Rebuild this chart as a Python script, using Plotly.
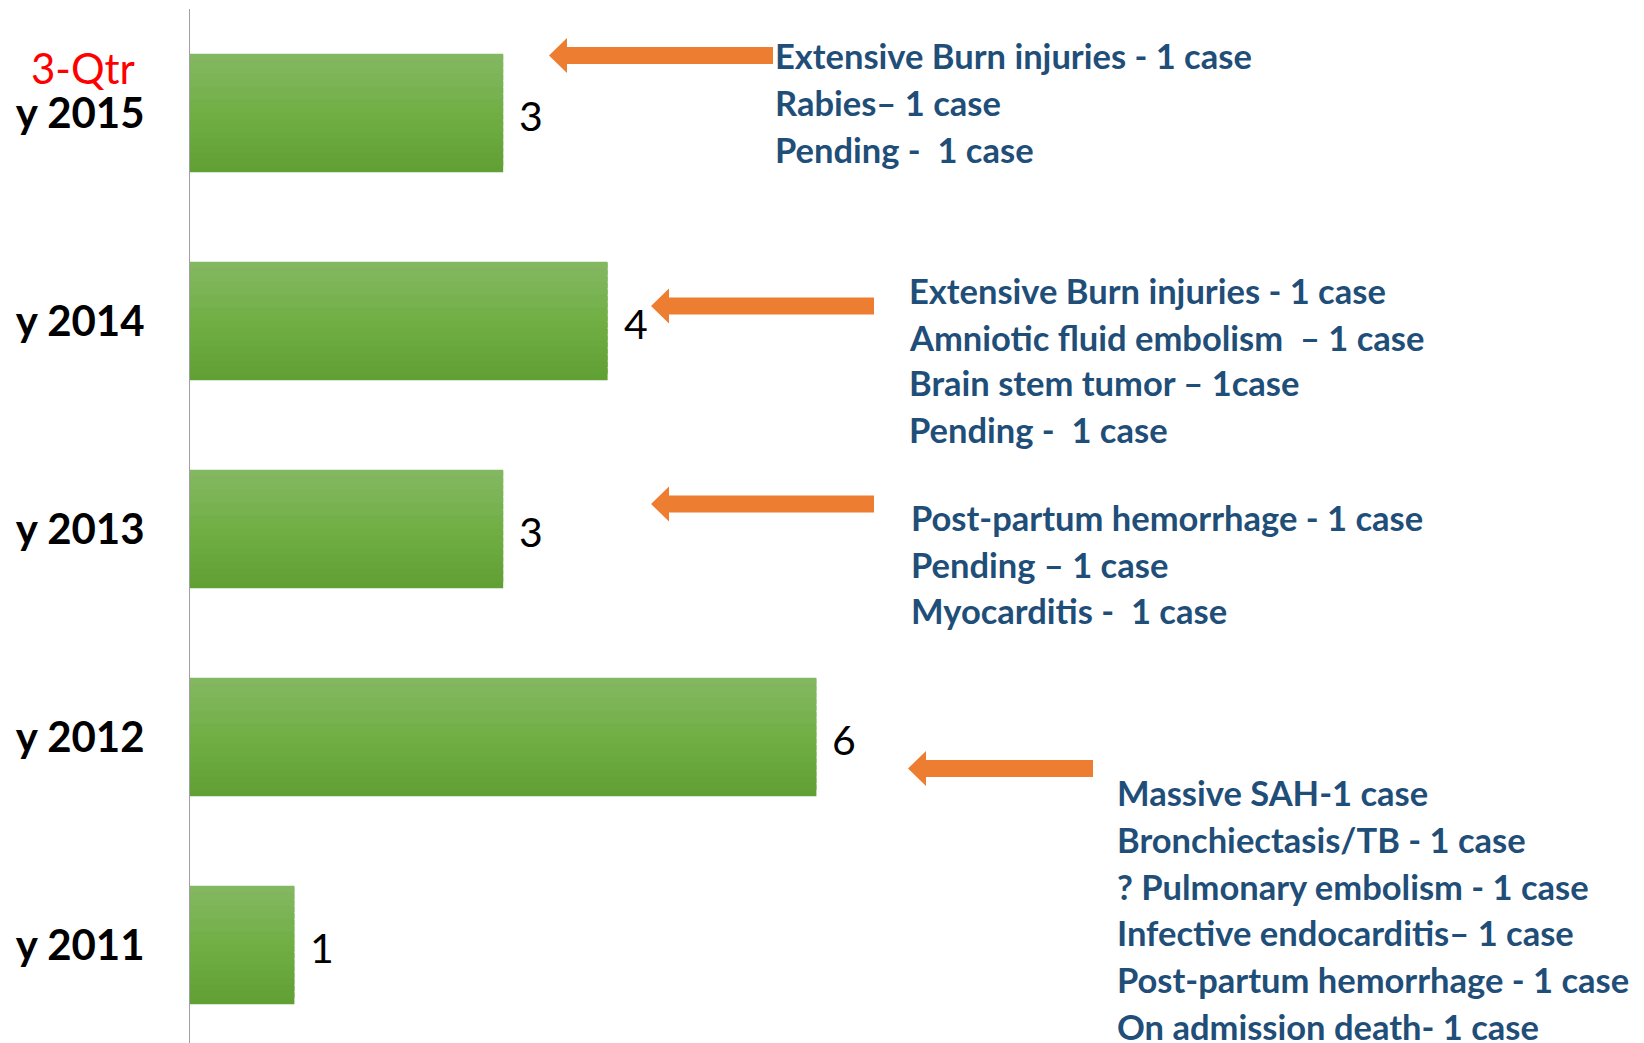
import plotly.graph_objects as go

# ---------------- data ----------------
years = ["y 2011", "y 2012", "y 2013", "y 2014", "y 2015"]
deaths = [1, 6, 3, 4, 3]

causes_2015 = ["Extensive Burn injuries - 1 case", "Rabies\u2013 1 case", "Pending -  1 case"]
causes_2014 = ["Extensive Burn injuries - 1 case", "Amniotic fluid embolism  \u2013 1 case",
               "Brain stem tumor \u2013 1case", "Pending -  1 case"]
causes_2013 = ["Post-partum hemorrhage - 1 case", "Pending \u2013 1 case", "Myocarditis -  1 case"]
causes_2012 = ["Massive SAH-1 case", "Bronchiectasis/TB - 1 case", "? Pulmonary embolism - 1 case",
               "Infective endocarditis\u2013 1 case", "Post-partum hemorrhage - 1 case",
               "On admission death- 1 case"]
qtr_note = "3-Qtr"

# ---------------- layout geometry (pixels) ----------------
W, H = 1644, 1043
ML, MR, MT, MB = 190, 0, 9, 0
PW, PH = W - ML - MR, H - MT - MB
X_MAX = PW / 104.4
Y_RANGE = [4.5 - PH / 208.0, 4.5]


def px(xp):
    return (xp - ML) / PW


def py(yp):
    return 1 - (yp - MT) / PH


FONT = "Lato, 'Open Sans', sans-serif"
BLUE = "#1F4E79"
ORANGE = "#ED7D31"

fig = go.Figure()

# gradient bars built from overlapping horizontal stripes
N = 18
BAR_W = 0.57
STEP = BAR_W / N
top = (0x84, 0xB8, 0x63)
mid = (0x71, 0xAF, 0x44)
bot = (0x60, 0x9F, 0x33)


def lerp(a, b, t):
    return tuple(int(round(a[k] + (b[k] - a[k]) * t)) for k in range(3))


for i in range(N):
    t = (i + 0.5) / N  # 0 bottom -> 1 top
    c = lerp(bot, mid, t / 0.5) if t < 0.5 else lerp(mid, top, (t - 0.5) / 0.5)
    off = -BAR_W / 2 + i * STEP
    wid = min(STEP * 1.8, BAR_W / 2 - off)
    fig.add_trace(go.Bar(
        x=deaths, y=years, orientation="h",
        width=wid, offset=off,
        marker=dict(color="rgb(%d,%d,%d)" % c, line=dict(width=0)),
        showlegend=False, hoverinfo="skip"))

annotations = []
# value labels
for yv, xv in zip(years, deaths):
    annotations.append(dict(x=xv, y=yv, xref="x", yref="y", text=str(xv), showarrow=False,
                            xanchor="left", yanchor="middle", xshift=14, yshift=-2,
                            font=dict(family=FONT, size=41, color="black")))

# 3-Qtr note
annotations.append(dict(x=px(83), y=py(68), xref="paper", yref="paper", text=qtr_note,
                        showarrow=False, xanchor="center", yanchor="middle",
                        font=dict(family=FONT, size=42, color="#FF0000")))

# cause text blocks
blocks = [
    (causes_2015, 773, [55.2, 102.4, 149.3]),
    (causes_2014, 907, [290.2, 337.3, 382.4, 429.3]),
    (causes_2013, 909, [517.6, 564.6, 610.5]),
    (causes_2012, 1115, [792.6, 839.6, 886.5, 932.6, 979.5, 1026]),
]
for lines, xp, ys in blocks:
    for txt, yp in zip(lines, ys):
        annotations.append(dict(x=px(xp), y=py(yp), xref="paper", yref="paper", text=txt,
                                showarrow=False, xanchor="left", yanchor="middle",
                                font=dict(family=FONT, size=34.5, color=BLUE, weight="bold")))

# block arrows
arrows = [(549, 773, 55.5), (651, 874, 306), (651, 874, 504), (908, 1093, 768.5)]
shapes = []
for tip, end, cy in arrows:
    hl, hh, sh = 18, 17.5, 8.5
    pts = [(tip, cy), (tip + hl, cy - hh), (tip + hl, cy - sh), (end, cy - sh),
           (end, cy + sh), (tip + hl, cy + sh), (tip + hl, cy + hh)]
    path = "M " + " L ".join("%.5f,%.5f" % (px(a), py(b)) for a, b in pts) + " Z"
    shapes.append(dict(type="path", path=path, xref="paper", yref="paper",
                       fillcolor=ORANGE, line=dict(width=0)))

fig.update_layout(
    width=W, height=H,
    margin=dict(l=ML, r=MR, t=MT, b=MB, pad=0),
    barmode="overlay",
    plot_bgcolor="white", paper_bgcolor="white",
    annotations=annotations, shapes=shapes,
    xaxis=dict(range=[0, X_MAX], visible=False, fixedrange=True),
    yaxis=dict(range=Y_RANGE, type="category", categoryorder="array", categoryarray=years,
               showline=True, linecolor="#A0A0A0", linewidth=1, showgrid=False,
               ticks="", ticklabelstandoff=36, zeroline=False, fixedrange=True,
               tickfont=dict(family=FONT, size=42, color="black", weight="bold")),
)

fig.write_html("out.html", config={"displayModeBar": False, "staticPlot": True},
               post_script="document.body.style.margin='0';document.body.style.overflow='hidden';")
